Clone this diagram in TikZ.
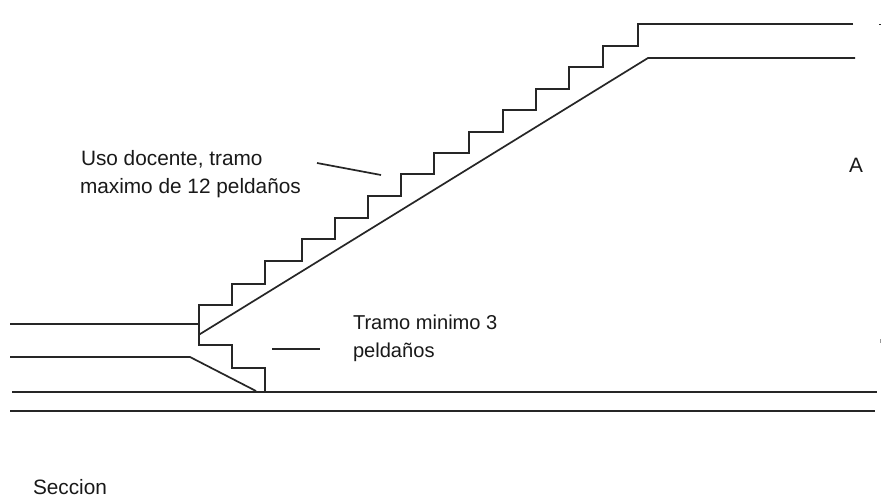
\documentclass[tikz,border=0pt]{standalone}
\usepackage{fontspec}
\setmainfont{Liberation Sans}
\tikzset{
  ln/.style={draw=black!85,line width=2pt,line join=miter},
  thin ln/.style={draw=black!85,line width=1.7pt},
  lbl/.style={anchor=base west,inner sep=0pt,outer sep=0pt,font=\fontsize{20.8}{24}\selectfont,text=black!90},
  lbls/.style={lbl,font=\fontsize{20.1}{24}\selectfont}
}
\begin{document}
\begin{tikzpicture}[x=1pt,y=-1pt]
\useasboundingbox (0,0) rectangle (881,497);
\fill[white] (0,0) rectangle (881,497);
% upper landing and stair profile
\draw[ln] (853,24.5) -- (637.5,24.5) |- (602.5,46) |- (569,67) |- (536,89) |- (503,110) |- (469,132) |- (434,153) |- (401,174.5) |- (368,196) |- (335,218) |- (302,239) |- (265,261) |- (232,284) |- (198.5,305) -- (198.5,345) -| (232,368) -| (265,392);
\draw[ln] (10,323.5) -- (198.5,323.5);
% slab
\draw[thin ln] (198.5,335) -- (648,58) -- (855,58);
\draw[thin ln] (10,357) -- (190,357) -- (256,391);
% floor
\draw[ln] (12,392) -- (877,392);
\draw[ln] (10,411) -- (875,411);
% leaders and specks
\draw[thin ln] (317,163) -- (381,175);
\draw[thin ln] (272,349) -- (320,349);
\draw[thin ln] (879,24.5) -- (881,24.5);
\draw[draw=black!40,line width=1pt] (880,339) -- (880,343);
% labels
\node[lbl] (t1) at (81,166) {Uso docente, tramo};
\node[lbl] (t2) at (80,193.5) {maximo de 12 peldaños};
\node[lbls] (t3) at (353,329) {Tramo minimo 3};
\node[lbls] (t4) at (353,357) {peldaños};
\node[lbl] (t5) at (849,172.5) {A};
\node[lbl] (t6) at (33,494) {Seccion};
\end{tikzpicture}
\end{document}
